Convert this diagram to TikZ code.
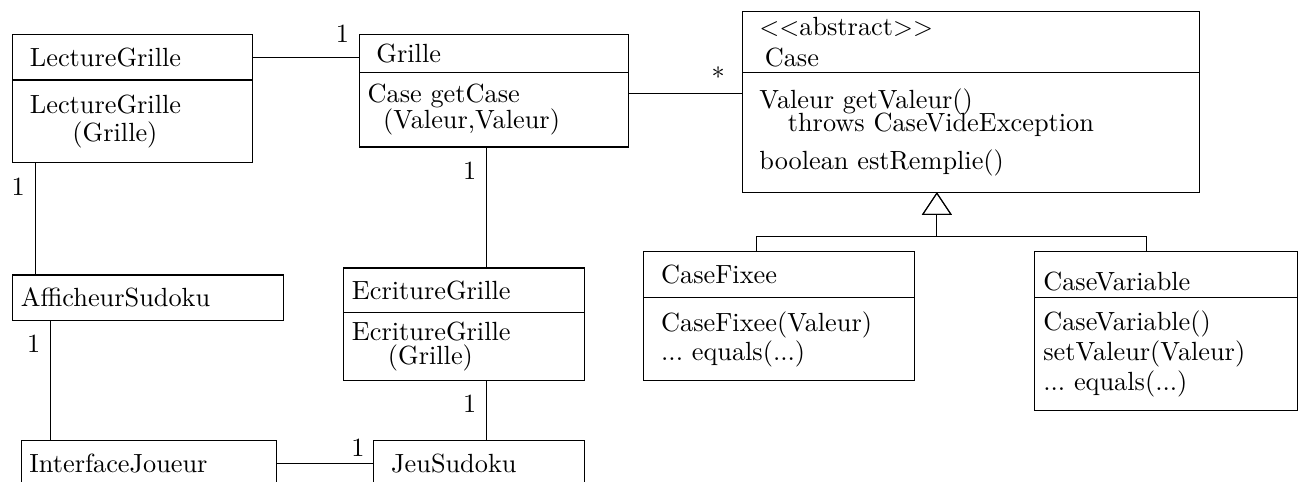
\documentclass[tikz,border=0pt]{standalone}
\usepackage{tikz}
\usetikzlibrary{arrows.meta,positioning}

\begin{document}
\begin{tikzpicture}[
    font=\fontsize{10.25pt}{12.3pt}\selectfont,
    part/.style={draw, anchor=north west, inner xsep=3.3pt, inner ysep=0pt,
                 outer sep=0pt, align=left},
    card/.style={inner xsep=3.8pt, inner ysep=5.6pt},
    inherit/.style={-{Triangle[open, length=3.1mm, width=4.1mm]}}
]
\useasboundingbox (0,0) rectangle (17.84,-6.60);
\clip (0,0) rectangle (17.84,-6.60);
\node[part, text width=3.06cm, minimum height=0.626cm] (lect) at (0.174,-0.47)
     {\ LectureGrille};
\node[part, text width=3.06cm, minimum height=1.133cm, below=0pt of lect] (lectb)
     {\ LectureGrille\\[-1.6pt]\hspace*{20pt}(Grille)};
\node[part, text width=3.463cm, minimum height=0.521cm] (grille) at (4.922,-0.47)
     {\ Grille};
\node[part, text width=3.463cm, minimum height=1.023cm, below=0pt of grille] (grilleb)
     {Case getCase\\[-2.4pt]\hspace*{6pt}(Valeur,Valeur)};
\node[part, text width=6.038cm, minimum height=0.826cm] (case) at (10.17,-0.164)
     {\ $<<$abstract$>>$\\\hspace*{5.5pt}Case};
\node[part, text width=6.038cm, minimum height=1.644cm, below=0pt of case] (caseb)
     {\ Valeur getValeur()\\[-3.5pt]\hspace*{14.5pt}throws CaseVideException\\[2.5pt]
      \ boolean estRemplie()};
\node[part, text width=3.481cm, minimum height=0.63cm] (fixe) at (8.823,-3.452)
     {\ CaseFixee};
\node[part, text width=3.481cm, minimum height=1.137cm, below=0pt of fixe] (fixeb)
     {\ CaseFixee(Valeur)\\[-0.7pt]\ ...\ equals(...)};
\node[part, text width=3.371cm, minimum height=0.63cm] (var) at (14.18,-3.452)
     {\raisebox{-2.5pt}[\height][0pt]{CaseVariable}};
\node[part, text width=3.371cm, minimum height=1.548cm, below=0pt of var] (varb)
     {CaseVariable()\\[-0.6pt]setValeur(Valeur)\\[-0.6pt]...\ equals(...)};
\node[part, text width=3.489cm, minimum height=0.621cm] (affi) at (0.17,-3.768)
     {AfficheurSudoku};
\node[part, text width=3.075cm, minimum height=0.607cm] (ecri) at (4.707,-3.672)
     {EcritureGrille};
\node[part, text width=3.075cm, minimum height=0.932cm, below=0pt of ecri] (ecrib)
     {EcritureGrille\\[-2.9pt]\hspace*{14pt}(Grille)};
\node[part, text width=3.262cm, minimum height=0.63cm] (iface) at (0.288,-6.042)
     {InterfaceJoueur};
\node[part, text width=2.659cm, minimum height=0.63cm] (jeu) at (5.124,-6.042)
     {\ JeuSudoku};
\draw (lect.east) -- (lect.east -| grille.west) node[card, above left]{1};
\draw ([yshift=-0.288cm]grilleb.north east)
      -- ([yshift=-0.288cm]grilleb.north east -| caseb.west)
      node[above left, inner xsep=6.6pt, inner ysep=2.4pt]{*};
\draw ([xshift=0.306cm]lectb.south west) node[card, below left]{1}
      -- ([xshift=0.306cm]lectb.south west |- affi.north);
\draw ([xshift=1.745cm]grilleb.south west) node[card, below left]{1}
      -- ([xshift=1.745cm]grilleb.south west |- ecri.north);
\draw ([xshift=1.96cm]ecrib.south west) node[card, below left]{1}
      -- ([xshift=1.96cm]ecrib.south west |- jeu.north);
\draw ([xshift=0.523cm]affi.south west) node[card, below left]{1}
      -- ([xshift=0.523cm]affi.south west |- iface.north);
\draw (iface.east) -- (iface.east -| jeu.west)
      node[card, above left, inner xsep=3.5pt, inner ysep=2.9pt]{1};
\coordinate (apex) at ([xshift=2.667cm]caseb.south west);
\coordinate (fork) at ([yshift=-0.612cm]apex);
\draw[inherit] ([xshift=1.548cm]fixe.north west) |- (fork) -- (apex);
\draw[inherit] ([xshift=1.534cm]var.north west) |- (fork) -- (apex);
\end{tikzpicture}
\end{document}
